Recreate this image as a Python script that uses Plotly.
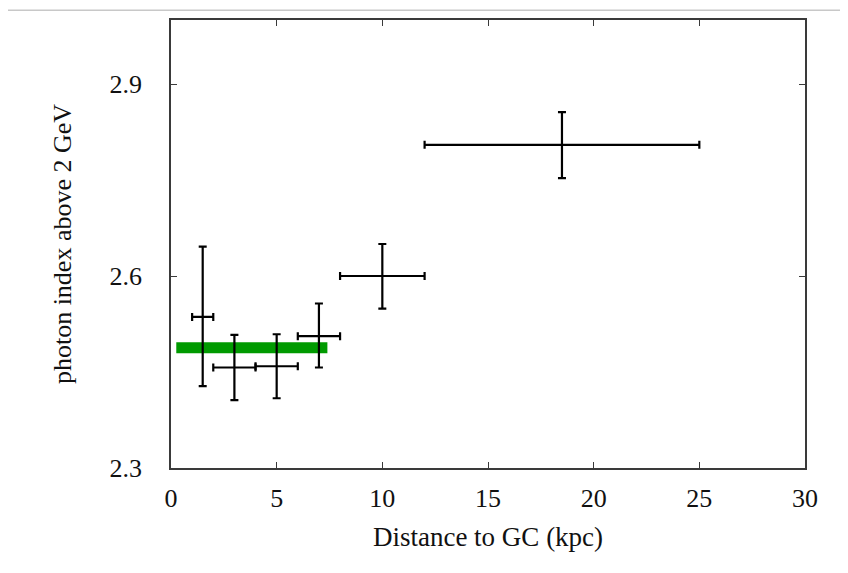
import plotly.graph_objects as go

distance = [1.5, 3.0, 5.0, 7.0, 10.0, 18.5]
dist_err = [0.5, 1.0, 1.0, 1.0, 2.0, 6.5]
index = [2.536, 2.457, 2.459, 2.506, 2.600, 2.805]
index_err_plus = [0.110, 0.051, 0.050, 0.051, 0.050, 0.051]
index_err_minus = [0.108, 0.051, 0.050, 0.049, 0.051, 0.052]

band_x = [0.25, 7.4]
band_y = [2.488, 2.488]

FONT = "Liberation Serif"

fig = go.Figure()
fig.add_trace(go.Scatter(
    x=band_x, y=band_y, mode="lines",
    line=dict(color="#009a00", width=11), showlegend=False, hoverinfo="skip"))
fig.add_trace(go.Scatter(
    x=distance, y=index, mode="markers",
    marker=dict(size=1, color="black"),
    error_x=dict(type="data", array=dist_err, color="black", thickness=2.2, width=4),
    error_y=dict(type="data", array=index_err_plus, arrayminus=index_err_minus,
                 color="black", thickness=2.2, width=4),
    showlegend=False))

axis_common = dict(
    showgrid=False, zeroline=False, showline=True, linecolor="#3a3a3a", linewidth=1.5,
    mirror="ticks", ticks="inside", ticklen=6, tickcolor="#3a3a3a",
    tickfont=dict(family=FONT, size=26, color="#111111"),
)
fig.update_xaxes(range=[0, 30], tickvals=[0, 5, 10, 15, 20, 25, 30],
                 ticklabelstandoff=6,
                 title=dict(text="Distance to GC (kpc)", standoff=15,
                            font=dict(family=FONT, size=27, color="#111111")),
                 **axis_common)
fig.update_yaxes(range=[2.3, 3.0], tickvals=[2.3, 2.6, 2.9], tickformat=".1f",
                 ticklabelstandoff=22,
                 title=dict(text="photon index above 2 GeV", standoff=30,
                            font=dict(family=FONT, size=26, color="#111111")),
                 **axis_common)

fig.add_shape(type="line", xref="paper", yref="paper", x0=-0.3, x1=1.1, y0=1.022, y1=1.022,
              line=dict(color="#c8c8c8", width=1.5))

fig.update_layout(
    width=848, height=573,
    margin=dict(l=163, r=51, t=10, b=113),
    paper_bgcolor="white", plot_bgcolor="white",
)
fig.write_html("out.html")
